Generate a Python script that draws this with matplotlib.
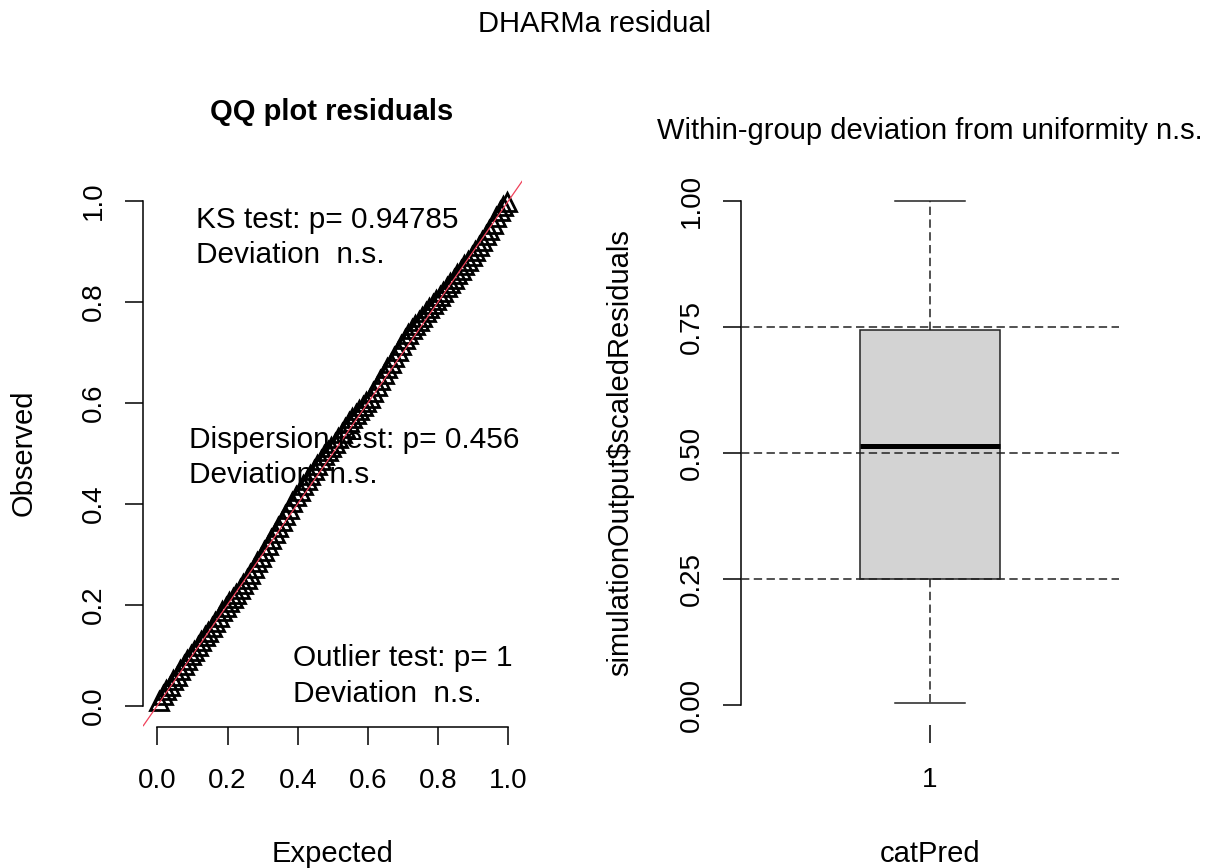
import matplotlib
matplotlib.use("Agg")
import matplotlib.pyplot as plt

plt.rcParams['font.family'] = ['Liberation Sans', 'DejaVu Sans']
plt.rcParams['lines.scale_dashes'] = False

# ---------------- data ----------------
expected = [0.005, 0.015, 0.025, 0.035, 0.045, 0.055, 0.065, 0.075, 0.085, 0.095,
            0.105, 0.115, 0.125, 0.135, 0.145, 0.155, 0.165, 0.175, 0.185, 0.195,
            0.205, 0.215, 0.225, 0.235, 0.245, 0.255, 0.265, 0.275, 0.285, 0.295,
            0.305, 0.315, 0.325, 0.335, 0.345, 0.355, 0.365, 0.375, 0.385, 0.395,
            0.405, 0.415, 0.425, 0.435, 0.445, 0.455, 0.465, 0.475, 0.485, 0.495,
            0.505, 0.515, 0.525, 0.535, 0.545, 0.555, 0.565, 0.575, 0.585, 0.595,
            0.605, 0.615, 0.625, 0.635, 0.645, 0.655, 0.665, 0.675, 0.685, 0.695,
            0.705, 0.715, 0.725, 0.735, 0.745, 0.755, 0.765, 0.775, 0.785, 0.795,
            0.805, 0.815, 0.825, 0.835, 0.845, 0.855, 0.865, 0.875, 0.885, 0.895,
            0.905, 0.915, 0.925, 0.935, 0.945, 0.955, 0.965, 0.975, 0.985, 0.995]
observed = [0.008, 0.020, 0.030, 0.039, 0.050, 0.059, 0.071, 0.081, 0.090, 0.100,
            0.109, 0.118, 0.127, 0.137, 0.146, 0.155, 0.165, 0.176, 0.187, 0.196,
            0.205, 0.213, 0.222, 0.231, 0.240, 0.250, 0.261, 0.272, 0.284, 0.295,
            0.307, 0.319, 0.330, 0.342, 0.354, 0.365, 0.377, 0.390, 0.403, 0.415,
            0.426, 0.437, 0.447, 0.456, 0.466, 0.476, 0.487, 0.496, 0.505, 0.513,
            0.521, 0.530, 0.540, 0.551, 0.561, 0.570, 0.578, 0.585, 0.593, 0.601,
            0.610, 0.621, 0.633, 0.645, 0.657, 0.668, 0.679, 0.690, 0.702, 0.714,
            0.726, 0.737, 0.747, 0.755, 0.763, 0.771, 0.779, 0.787, 0.795, 0.803,
            0.811, 0.820, 0.829, 0.837, 0.846, 0.855, 0.864, 0.873, 0.882, 0.891,
            0.900, 0.910, 0.921, 0.932, 0.943, 0.954, 0.968, 0.980, 0.990, 0.998]

qq_ticks = [0.0, 0.2, 0.4, 0.6, 0.8, 1.0]
qq_ticklabels = ["0.0", "0.2", "0.4", "0.6", "0.8", "1.0"]

test_texts = [("KS test: p= 0.94785", "Deviation  n.s."),
              ("Dispersion test: p= 0.456", "Deviation  n.s."),
              ("Outlier test: p= 1", "Deviation  n.s.")]

group_labels = ["1"]
box_whislo = [0.005]
box_q1 = [0.25]
box_med = [0.513]
box_q3 = [0.745]
box_whishi = [1.0]
ref_lines = [0.25, 0.5, 0.75]
box_ticks = [0.00, 0.25, 0.50, 0.75, 1.00]
box_ticklabels = ["0.00", "0.25", "0.50", "0.75", "1.00"]

# ---------------- figure ----------------
W, H = 1210, 868
fig = plt.figure(figsize=(W / 100, H / 100), dpi=100)

FS = 21
AFS = 21.4
TFS = 20
LW = 1.1
TL = 13
PADY = 13
PADX = 17

def px_axes(x0, x1, ytop, ybot):
    return fig.add_axes([x0 / W, (H - ybot) / H, (x1 - x0) / W, (ybot - ytop) / H])

# ---- left: QQ plot ----
ax1 = px_axes(143.3, 522.4, 179.8, 726.7)
ax1.set_xlim(-0.04, 1.04)
ax1.set_ylim(-0.042, 1.042)
ax1.plot(expected, observed, linestyle='none', marker='^', markersize=13,
         markerfacecolor='none', markeredgecolor='black', markeredgewidth=2.0,
         clip_on=False, zorder=2)
ax1.axline((0, 0), slope=1, color='#f0415a', lw=0.9, zorder=3)

for s in ['top', 'right']:
    ax1.spines[s].set_visible(False)
ax1.spines['left'].set_bounds(0, 1)
ax1.spines['bottom'].set_bounds(0, 1)
for s in ['left', 'bottom']:
    ax1.spines[s].set_linewidth(LW)
ax1.set_xticks(qq_ticks)
ax1.set_xticklabels(qq_ticklabels)
ax1.set_yticks(qq_ticks)
ax1.set_yticklabels(qq_ticklabels)
ax1.tick_params(axis='both', length=TL, width=LW, labelsize=TFS)
ax1.tick_params(axis='x', pad=PADX)
ax1.tick_params(axis='y', pad=PADY)
for lab in ax1.get_yticklabels():
    lab.set_rotation(90)
    lab.set_va('center')

text_pos = [(0.110, 0.9465, 0.8766), (0.089, 0.5109, 0.4416), (0.387, 0.0778, 0.0079)]
for (t1, t2), (x, y1, y2) in zip(test_texts, text_pos):
    ax1.text(x, y1, t1, fontsize=AFS, ha='left', va='baseline', zorder=4)
    ax1.text(x, y2, t2, fontsize=AFS, ha='left', va='baseline', zorder=4)

# ---- right: boxplot ----
ax2 = px_axes(741, 1119, 180.8, 725.2)
ax2.set_xlim(0.5, 1.5)
ax2.set_ylim(-0.04, 1.04)
stats = []
for i in range(len(group_labels)):
    stats.append(dict(whislo=box_whislo[i], q1=box_q1[i], med=box_med[i],
                      q3=box_q3[i], whishi=box_whishi[i], fliers=[],
                      label=group_labels[i]))
ax2.bxp(stats, positions=[1], widths=0.373, patch_artist=True, showfliers=False,
        boxprops=dict(facecolor='#d3d3d3', edgecolor='#222222', linewidth=LW),
        medianprops=dict(color='black', linewidth=3.6, solid_capstyle='butt'),
        whiskerprops=dict(color='#222222', linewidth=LW, linestyle=(0, (6, 3.2))),
        capprops=dict(color='#222222', linewidth=LW), capwidths=0.1865)
for yv in ref_lines:
    ax2.axhline(yv, color='#222222', lw=LW, linestyle=(0, (6, 3.2)), zorder=5)

for s in ['top', 'right', 'bottom']:
    ax2.spines[s].set_visible(False)
ax2.spines['left'].set_bounds(0, 1)
ax2.spines['left'].set_linewidth(LW)
ax2.set_yticks(box_ticks)
ax2.set_yticklabels(box_ticklabels)
ax2.set_xticks([1])
ax2.set_xticklabels(group_labels)
ax2.tick_params(axis='both', length=TL, width=LW, labelsize=TFS)
ax2.tick_params(axis='x', pad=PADX)
ax2.tick_params(axis='y', pad=PADY)
for lab in ax2.get_yticklabels():
    lab.set_rotation(90)
    lab.set_va('center')

# ---- texts ----
fig.text(595 / W, (H - 32) / H, "DHARMa residual", fontsize=FS, ha='center', va='baseline')
fig.text(332 / W, (H - 120) / H, "QQ plot residuals", fontsize=FS, fontweight='bold',
         ha='center', va='baseline')
fig.text(930 / W, (H - 139) / H, "Within-group deviation from uniformity n.s.",
         fontsize=FS, ha='center', va='baseline')
fig.text(333 / W, (H - 862) / H, "Expected", fontsize=FS, ha='center', va='baseline')
fig.text(930 / W, (H - 862) / H, "catPred", fontsize=FS, ha='center', va='baseline')
fig.text(32 / W, (H - 453) / H, "Observed", fontsize=FS, ha='center', va='baseline',
         rotation=90, rotation_mode='anchor')
fig.text(628 / W, (H - 453) / H, "simulationOutput$scaledResiduals", fontsize=FS,
         ha='center', va='baseline', rotation=90, rotation_mode='anchor')

fig.savefig("out.png", dpi=100, facecolor='white')
